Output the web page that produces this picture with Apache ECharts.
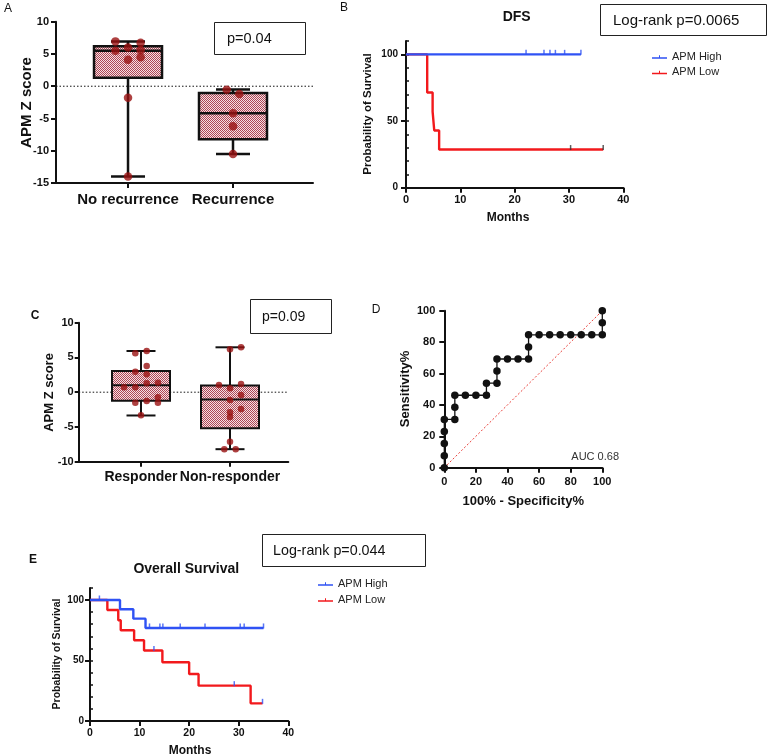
<!DOCTYPE html>
<html><head><meta charset="utf-8">
<script src="https://cdn.jsdelivr.net/npm/echarts@6/dist/echarts.min.js"></script>
<style>html,body{margin:0;padding:0;background:#fff}#c{width:767px;height:756px}</style>
</head><body><div id="c"></div>
<script>
// ---------- DATA ----------
// Panel A
const aCategories = ['No recurrence', 'Recurrence'];
const aBoxNoRecurrence = [-14.0, 1.3, 5.5, 6.2, 6.95];   // min, Q1, median, Q3, max
const aBoxRecurrence = [-10.5, -8.2, -4.2, -1.05, -0.5];
const aPointsNoRecurrence = [6.95, 6.0, 6.75, 5.5, 5.6, 4.5, 4.1, -1.8, -14.0];
const aJitterNoRecurrence = [-0.12, 0, 0.12, -0.12, 0.12, 0.12, 0, 0, 0];
const aPointsRecurrence = [-0.55, -1.2, -4.2, -6.2, -10.5];
const aJitterRecurrence = [-0.06, 0.06, 0, 0, 0];
// Panel B (DFS)
const bHighTimes = [0, 32.2];
const bHighSurv = [100, 100];
const bHighCensorTimes = [22.1, 25.4, 26.5, 27.5, 29.2, 32.2];
const bHighCensorSurv = [100, 100, 100, 100, 100, 100];
const bLowTimes = [0, 3.9, 3.9, 4.9, 5.2, 6.1, 36.3];
const bLowSurv = [100, 85.7, 71.4, 57.1, 42.9, 28.6, 28.6];
const bLowCensorTimes = [30.3, 36.3];
const bLowCensorSurv = [28.6, 28.6];
// Panel C
const cCategories = ['Responder', 'Non-responder'];
const cBoxResponder = [-3.35, -1.22, 1.0, 3.05, 5.93];
const cBoxNonResponder = [-8.2, -5.2, -1.05, 0.95, 6.46];
const cPointsResponder = [5.59, 5.93, 3.77, 2.95, 2.57, 0.70, 0.70, 1.28, 1.37, -1.51, -1.27, -0.73, -1.51, -3.32];
const cJitterResponder = [-0.064, 0.064, 0.064, -0.064, 0.064, -0.19, -0.064, 0.064, 0.19, -0.064, 0.064, 0.19, 0.19, 0];
const cPointsNonResponder = [6.17, 6.46, 1.04, 1.18, 0.56, -0.40, -1.12, -2.42, -2.89, -3.57, -7.12, -8.2, -8.2];
const cJitterNonResponder = [0, 0.124, -0.124, 0.124, 0, 0.124, 0, 0.124, 0, 0, 0, -0.064, 0.064];
// Panel D (ROC)
const dFpr = [0,0,0,0,0,6.67,6.67,6.67,13.33,20,26.67,26.67,33.33,33.33,33.33,40,46.67,53.33,53.33,53.33,60,66.67,73.33,80,86.67,93.33,100,100,100];
const dTpr = [0,7.69,15.38,23.08,30.77,30.77,38.46,46.15,46.15,46.15,46.15,53.85,53.85,61.54,69.23,69.23,69.23,69.23,76.92,84.62,84.62,84.62,84.62,84.62,84.62,84.62,84.62,92.31,100];
const dRefLine = [0, 100];
// Panel E (OS)
const eHighTimes = [0, 6.05, 8.74, 11.2, 35.0];
const eHighSurv = [100, 92.3, 84.6, 76.9, 76.9];
const eHighCensorTimes = [1.9, 12.0, 14.1, 14.7, 18.2, 23.2, 30.3, 31.1, 35.0];
const eHighCensorSurv = [100, 76.9, 76.9, 76.9, 76.9, 76.9, 76.9, 76.9, 76.9];
const eLowTimes = [0, 3.5, 5.7, 6.2, 8.9, 10.9, 14.6, 20.0, 21.9, 32.4, 34.8];
const eLowSurv = [100, 91.7, 83.3, 75.0, 66.7, 58.3, 48.6, 38.9, 29.2, 14.6, 14.6];
const eLowCensorTimes = [12.9, 29.1, 34.8];
const eLowCensorSurv = [58.3, 29.2, 14.6];
const kmTicksY = [0, 50, 100];

// ---------- STYLE HELPERS ----------
const FONT = '"Liberation Sans", Arial, sans-serif';
const BLUE = '#2f52f4', RED = '#f2191c', DOT = '#9a1212';
const pat = document.createElement('canvas');
pat.width = 2; pat.height = 2;
(function(){const g = pat.getContext('2d'); g.fillStyle = '#f5e0e3'; g.fillRect(0,0,2,2); g.fillStyle = '#ad4655'; g.fillRect(0,0,1,1); g.fillRect(1,1,1,1);})();
const patternFill = {type: 'pattern', image: pat, repeat: 'repeat'};

function axisLine(w){return {show:true, onZero:false, lineStyle:{color:'#111', width:w}};}
function axisTick(len, w){return {show:true, inside:false, length:len, lineStyle:{color:'#111', width:w}};}
function lbl(size, margin){return {show:true, color:'#111', fontWeight:'bold', fontSize:size, fontFamily:FONT, margin:margin};}

function boxRender(boxW, capW, lw){
  return function(params, api){
    const x = api.value(0);
    const lo = api.coord([x, api.value(1)]), q1 = api.coord([x, api.value(2)]), md = api.coord([x, api.value(3)]);
    const q3 = api.coord([x, api.value(4)]), hi = api.coord([x, api.value(5)]);
    const cx = md[0], h = boxW/2, c = capW/2;
    const ls = {stroke:'#111', lineWidth:lw};
    return {type:'group', children:[
      {type:'line', shape:{x1:cx,y1:hi[1],x2:cx,y2:q3[1]}, style:ls},
      {type:'line', shape:{x1:cx,y1:q1[1],x2:cx,y2:lo[1]}, style:ls},
      {type:'line', shape:{x1:cx-c,y1:hi[1],x2:cx+c,y2:hi[1]}, style:ls},
      {type:'line', shape:{x1:cx-c,y1:lo[1],x2:cx+c,y2:lo[1]}, style:ls},
      {type:'rect', shape:{x:cx-h, y:q3[1], width:boxW, height:q1[1]-q3[1]}, style:{fill:patternFill, stroke:'#111', lineWidth:lw}},
      {type:'line', shape:{x1:cx-h,y1:md[1],x2:cx+h,y2:md[1]}, style:ls}
    ]};
  };
}
function pts(vals, jit, cat){return vals.map((v,i)=>[cat + jit[i], v]);}
function pairs(xs, ys){return xs.map((x,i)=>[x, ys[i]]);}

function txt(x, y, s, font, extra){
  return Object.assign({type:'text', x:x, y:y, style:{text:s, font:font, fill:'#111', align:'center', verticalAlign:'middle'}}, extra||{});
}
function ltxt(x, y, s, font, color, align){
  return {type:'text', x:x, y:y, style:{text:s, font:font, fill:color||'#111', align:align||'left', verticalAlign:'middle'}};
}
function box(x, y, w, h){return {type:'rect', shape:{x:x+0.5, y:y+0.5, width:w, height:h}, style:{fill:'none', stroke:'#222', lineWidth:1}};}

// Axis extents
const aXMin = -0.686, aXMax = 1.762;
const cXMin = -0.70, cXMax = 1.655;

const legendIcon = 'path://M0,8 L30,8 L30,11 L0,11 Z M14,4 L16,4 L16,11 L14,11 Z';

const option = {
  animation: false,
  textStyle: {fontFamily: FONT},
  grid: [
    {left:56, top:21.7, width:257, height:161.3, outerBoundsMode:'none'},
    {left:406, top:41, width:217.3, height:146.7, outerBoundsMode:'none'},
    {left:78.7, top:322.7, width:209.6, height:139, outerBoundsMode:'none'},
    {left:444.3, top:310.7, width:158, height:157, outerBoundsMode:'none'},
    {left:90, top:587.9, width:198.3, height:133.1, outerBoundsMode:'none'}
  ],
  xAxis: [
    {gridIndex:0, type:'value', min:aXMin, max:aXMax, splitLine:{show:false}, axisLine:axisLine(2),
      axisTick:Object.assign(axisTick(5,2), {customValues:[0,1]}),
      axisLabel:Object.assign(lbl(15, 9), {customValues:[0,1], formatter:v=>aCategories[Math.round(v)]})},
    {gridIndex:1, type:'value', min:0, max:40, interval:10, splitLine:{show:false}, axisLine:axisLine(2), axisTick:axisTick(5,2), axisLabel:lbl(11,7)},
    {gridIndex:2, type:'value', min:cXMin, max:cXMax, splitLine:{show:false}, axisLine:axisLine(2),
      axisTick:Object.assign(axisTick(5,2), {customValues:[0,1]}),
      axisLabel:Object.assign(lbl(14, 8), {customValues:[0,1], formatter:v=>cCategories[Math.round(v)]})},
    {gridIndex:3, type:'value', min:0, max:100, interval:20, splitLine:{show:false}, axisLine:axisLine(2), axisTick:axisTick(5,2), axisLabel:lbl(11,9)},
    {gridIndex:4, type:'value', min:0, max:40, interval:10, splitLine:{show:false}, axisLine:axisLine(2), axisTick:axisTick(5,2), axisLabel:lbl(10.5,7)}
  ],
  yAxis: [
    {gridIndex:0, type:'value', min:-15, max:10, interval:5, splitLine:{show:false}, axisLine:axisLine(2), axisTick:axisTick(5,2), axisLabel:lbl(11,7)},
    {gridIndex:1, type:'value', min:0, max:110, splitLine:{show:false}, axisLine:axisLine(2),
      axisTick:Object.assign(axisTick(5,2), {customValues:kmTicksY}), axisLabel:Object.assign(lbl(10,8), {customValues:kmTicksY})},
    {gridIndex:1, type:'value', min:0, max:110, interval:10, splitLine:{show:false}, axisLine:{show:false}, axisTick:axisTick(3,1.5), axisLabel:{show:false}},
    {gridIndex:2, type:'value', min:-10, max:10, interval:5, splitLine:{show:false}, axisLine:axisLine(2), axisTick:axisTick(4,2), axisLabel:lbl(11,5)},
    {gridIndex:3, type:'value', min:0, max:100, interval:20, splitLine:{show:false}, axisLine:axisLine(2), axisTick:axisTick(5,2), axisLabel:lbl(11,9)},
    {gridIndex:4, type:'value', min:0, max:110, splitLine:{show:false}, axisLine:axisLine(2),
      axisTick:Object.assign(axisTick(5,2), {customValues:kmTicksY}), axisLabel:Object.assign(lbl(10,6), {customValues:kmTicksY})},
    {gridIndex:4, type:'value', min:0, max:110, interval:10, splitLine:{show:false}, axisLine:{show:false}, axisTick:axisTick(3,1.5), axisLabel:{show:false}}
  ],
  legend: [
    {data:['APM High','APM Low'], orient:'vertical', left:652, top:51.5, padding:0, itemGap:4.4, itemWidth:15, itemHeight:6,
      icon:legendIcon, textStyle:{fontSize:11, color:'#222', fontFamily:FONT}, selectedMode:false},
    {data:['APM High','APM Low'], orient:'vertical', left:318, top:578.5, padding:0, itemGap:5, itemWidth:15, itemHeight:6,
      icon:legendIcon, textStyle:{fontSize:11, color:'#222', fontFamily:FONT}, selectedMode:false}
  ],
  series: [
    // Panel A
    {type:'line', xAxisIndex:0, yAxisIndex:0, data:[[aXMin,0],[aXMax,0]], showSymbol:false, z:1, silent:true,
      lineStyle:{color:'#111', width:1, type:[1.5,2]}},
    {type:'custom', xAxisIndex:0, yAxisIndex:0, renderItem:boxRender(68, 34, 2.5), z:3,
      encode:{x:0, y:[1,2,3,4,5]},
      data:[[0].concat(aBoxNoRecurrence), [1].concat(aBoxRecurrence)]},
    {type:'scatter', xAxisIndex:0, yAxisIndex:0, symbolSize:8.5, z:5, itemStyle:{color:DOT},
      data:pts(aPointsNoRecurrence, aJitterNoRecurrence, 0).concat(pts(aPointsRecurrence, aJitterRecurrence, 1))},
    // Panel B
    {name:'APM High', type:'line', xAxisIndex:1, yAxisIndex:1, step:'end', showSymbol:false, data:pairs(bHighTimes,bHighSurv),
      lineStyle:{color:BLUE, width:2.4}, itemStyle:{color:BLUE}, z:4},
    {name:'APM Low', type:'line', xAxisIndex:1, yAxisIndex:1, step:'end', showSymbol:false, data:pairs(bLowTimes,bLowSurv),
      lineStyle:{color:RED, width:2.4}, itemStyle:{color:RED}, z:3},
    {type:'scatter', xAxisIndex:1, yAxisIndex:1, symbol:'rect', symbolSize:[1.5,5], symbolOffset:[0,-2], z:5,
      itemStyle:{color:BLUE}, data:pairs(bHighCensorTimes,bHighCensorSurv)},
    {type:'scatter', xAxisIndex:1, yAxisIndex:1, symbol:'rect', symbolSize:[1.5,5], symbolOffset:[0,-2], z:5,
      itemStyle:{color:'#333'}, data:pairs(bLowCensorTimes,bLowCensorSurv)},
    // Panel C
    {type:'line', xAxisIndex:2, yAxisIndex:3, data:[[cXMin,0],[cXMax,0]], showSymbol:false, z:1, silent:true,
      lineStyle:{color:'#111', width:1, type:[1.5,2]}},
    {type:'custom', xAxisIndex:2, yAxisIndex:3, renderItem:boxRender(58, 29, 2), z:3,
      encode:{x:0, y:[1,2,3,4,5]},
      data:[[0].concat(cBoxResponder), [1].concat(cBoxNonResponder)]},
    {type:'scatter', xAxisIndex:2, yAxisIndex:3, symbolSize:6.5, z:5, itemStyle:{color:DOT},
      data:pts(cPointsResponder, cJitterResponder, 0).concat(pts(cPointsNonResponder, cJitterNonResponder, 1))},
    // Panel D
    {type:'line', xAxisIndex:3, yAxisIndex:4, data:pairs(dRefLine, dRefLine), showSymbol:false, z:2, silent:true,
      lineStyle:{color:'#e8403a', width:1, type:[2,2]}},
    {type:'line', xAxisIndex:3, yAxisIndex:4, data:pairs(dFpr, dTpr), symbol:'circle', symbolSize:7.5, z:4,
      lineStyle:{color:'#111', width:1.3}, itemStyle:{color:'#111'}},
    // Panel E
    {name:'APM High', type:'line', xAxisIndex:4, yAxisIndex:5, step:'end', showSymbol:false, data:pairs(eHighTimes,eHighSurv),
      lineStyle:{color:BLUE, width:2.4}, itemStyle:{color:BLUE}, z:4},
    {name:'APM Low', type:'line', xAxisIndex:4, yAxisIndex:5, step:'end', showSymbol:false, data:pairs(eLowTimes,eLowSurv),
      lineStyle:{color:RED, width:2.4}, itemStyle:{color:RED}, z:3},
    {type:'scatter', xAxisIndex:4, yAxisIndex:5, symbol:'rect', symbolSize:[1.5,5], symbolOffset:[0,-2], z:5,
      itemStyle:{color:BLUE}, data:pairs(eHighCensorTimes,eHighCensorSurv).concat(pairs(eLowCensorTimes,eLowCensorSurv))}
  ],
  graphic: [
    // panel letters
    txt(8, 9, 'A', '12px ' + FONT),
    txt(344, 8, 'B', '12px ' + FONT),
    txt(35, 316, 'C', 'bold 12px ' + FONT),
    txt(376, 310, 'D', '12px ' + FONT),
    txt(33, 560, 'E', 'bold 12px ' + FONT),
    // Panel A
    txt(27, 102.5, 'APM Z score', 'bold 15px ' + FONT, {rotation: Math.PI/2}),
    box(214, 22, 91, 32),
    ltxt(227, 39, 'p=0.04', '14.5px ' + FONT),
    // Panel B
    txt(516.7, 17, 'DFS', 'bold 14px ' + FONT),
    txt(368.3, 114, 'Probability of Survival', 'bold 11.5px ' + FONT, {rotation: Math.PI/2}),
    txt(508, 218, 'Months', 'bold 12px ' + FONT),
    box(600, 4, 166, 31),
    ltxt(613, 20.5, 'Log-rank p=0.0065', '15px ' + FONT),
    // Panel C
    txt(49, 392.5, 'APM Z score', 'bold 13px ' + FONT, {rotation: Math.PI/2}),
    box(250, 299, 81, 34),
    ltxt(262, 317, 'p=0.09', '14px ' + FONT),
    // Panel D
    txt(405, 389, 'Sensitivity%', 'bold 13px ' + FONT, {rotation: Math.PI/2}),
    txt(523.3, 501.7, '100% - Specificity%', 'bold 13px ' + FONT),
    ltxt(619, 457.3, 'AUC 0.68', '11px ' + FONT, '#333', 'right'),
    // Panel E
    txt(186.3, 569, 'Overall Survival', 'bold 14px ' + FONT),
    txt(56.7, 654, 'Probability of Survival', 'bold 10.5px ' + FONT, {rotation: Math.PI/2}),
    txt(190, 750.5, 'Months', 'bold 12px ' + FONT),
    box(262, 534, 163, 32),
    ltxt(273, 551, 'Log-rank p=0.044', '14.3px ' + FONT)
  ]
};
const chart = echarts.init(document.getElementById('c'), null, {renderer:'canvas'});
chart.setOption(option);
</script></body></html>
